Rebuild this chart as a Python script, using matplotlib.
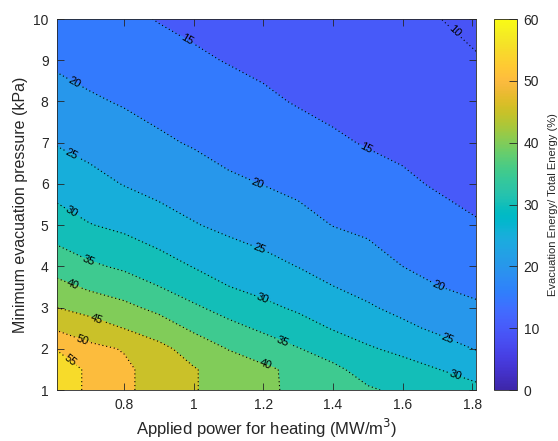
import numpy as np
import matplotlib
matplotlib.use("Agg")
import matplotlib.pyplot as plt
from matplotlib.colors import LinearSegmentedColormap, Normalize
from matplotlib.cm import ScalarMappable

plt.rcParams['font.family'] = ['Liberation Sans', 'DejaVu Sans']

# Applied power (MW/m^3) and minimum evacuation pressure (kPa)
power = [0.607, 0.7, 0.8, 0.9, 1.0, 1.1, 1.2, 1.3, 1.4, 1.5, 1.6, 1.7, 1.811]
pressure = [1, 1.5, 2, 2.5, 3, 3.5, 4, 5, 6, 7, 8, 9, 10]

# evacuation energy / total energy (%), one list per power value (pressure 1 -> 10)
e_061 = [57.3, 57.3, 54.8, 49.35, 45.0, 41.5, 38.0, 32.2, 28.1, 24.7, 21.9, 19.2, 16.9]
e_070 = [54.3, 54.3, 51.2, 47.4, 43.2, 39.25, 35.8, 30.2, 26.6, 23.4, 20.6, 18.3, 16.3]
e_080 = [50.9, 50.9, 49.7, 44.9, 41.2, 37.6, 34.2, 28.9, 24.8, 22.1, 19.6, 17.7, 15.9]
e_090 = [48.0, 48.0, 46.3, 42.6, 38.7, 35.1, 32.1, 27.0, 23.5, 20.7, 18.6, 16.7, 14.8]
e_100 = [45.3, 45.3, 43.05, 39.1, 35.7, 32.6, 29.8, 25.3, 22.3, 19.6, 17.6, 15.6, 14.1]
e_110 = [43.0, 43.0, 39.8, 36.4, 33.2, 30.1, 27.9, 23.9, 20.75, 18.5, 16.6, 14.8, 13.4]
e_120 = [40.9, 40.9, 37.5, 34.2, 31.1, 28.6, 26.4, 22.9, 19.9, 17.8, 15.7, 14.1, 12.8]
e_130 = [39.0, 38.8, 35.2, 32.1, 29.25, 27.1, 24.9, 21.6, 18.9, 16.7, 14.7, 13.5, 12.2]
e_140 = [37.2, 36.0, 32.9, 29.7, 27.4, 25.1, 23.3, 19.9, 17.8, 15.6, 14.0, 12.8, 11.6]
e_150 = [35.5, 33.2, 30.5, 28.0, 25.5, 23.7, 22.0, 19.0, 16.8, 14.7, 13.4, 12.2, 11.1]
e_160 = [34.1, 31.8, 28.9, 26.0, 23.8, 21.9, 20.0, 17.9, 15.7, 14.1, 12.8, 11.7, 10.6]
e_170 = [32.7, 30.1, 27.0, 24.2, 22.2, 20.1, 18.9, 16.6, 14.6, 13.3, 12.1, 11.05, 10.1]
e_181 = [31.2, 28.1, 24.8, 22.7, 20.6, 19.1, 17.8, 15.3, 13.8, 12.5, 11.35, 10.25, 9.1]

levels = [10, 15, 20, 25, 30, 35, 40, 45, 50, 55]
cbar_ticks = [0, 10, 20, 30, 40, 50, 60]

# where the contour labels sit
label_pos = [(1.743, 9.64),
             (0.975, 9.42), (1.493, 6.82),
             (0.653, 8.40), (1.182, 6.00), (1.702, 3.52),
             (0.645, 6.65), (1.185, 4.37), (1.728, 2.21),
             (0.645, 5.25), (1.197, 3.18), (1.751, 1.34),
             (0.697, 4.13), (1.254, 2.14),
             (0.651, 3.52), (1.205, 1.58),
             (0.717, 2.67),
             (0.682, 2.26),
             (0.645, 1.73)]

# parula (64)
parula_rgb = [
    [0.2422, 0.1504, 0.6603], [0.2504, 0.1650, 0.7076], [0.2578, 0.1818, 0.7511],
    [0.2647, 0.1978, 0.7952], [0.2706, 0.2147, 0.8364], [0.2751, 0.2342, 0.8710],
    [0.2783, 0.2559, 0.8991], [0.2803, 0.2782, 0.9221], [0.2813, 0.3006, 0.9414],
    [0.2810, 0.3228, 0.9579], [0.2795, 0.3447, 0.9717], [0.2760, 0.3667, 0.9829],
    [0.2699, 0.3892, 0.9906], [0.2602, 0.4123, 0.9952], [0.2440, 0.4358, 0.9988],
    [0.2206, 0.4603, 0.9973], [0.1963, 0.4847, 0.9892], [0.1834, 0.5074, 0.9798],
    [0.1786, 0.5289, 0.9682], [0.1764, 0.5499, 0.9520], [0.1687, 0.5703, 0.9359],
    [0.1540, 0.5902, 0.9218], [0.1460, 0.6091, 0.9079], [0.1380, 0.6276, 0.8973],
    [0.1248, 0.6459, 0.8883], [0.1113, 0.6635, 0.8763], [0.0952, 0.6798, 0.8598],
    [0.0689, 0.6948, 0.8394], [0.0297, 0.7082, 0.8163], [0.0036, 0.7203, 0.7917],
    [0.0067, 0.7312, 0.7660], [0.0433, 0.7411, 0.7394], [0.0964, 0.7500, 0.7120],
    [0.1408, 0.7584, 0.6842], [0.1717, 0.7670, 0.6554], [0.1938, 0.7758, 0.6251],
    [0.2161, 0.7843, 0.5923], [0.2470, 0.7918, 0.5567], [0.2906, 0.7973, 0.5188],
    [0.3406, 0.8008, 0.4789], [0.3909, 0.8029, 0.4354], [0.4456, 0.8024, 0.3909],
    [0.5044, 0.7993, 0.3480], [0.5616, 0.7942, 0.3045], [0.6174, 0.7876, 0.2612],
    [0.6720, 0.7793, 0.2227], [0.7242, 0.7698, 0.1910], [0.7738, 0.7598, 0.1646],
    [0.8203, 0.7498, 0.1535], [0.8634, 0.7406, 0.1596], [0.9035, 0.7330, 0.1774],
    [0.9393, 0.7288, 0.2100], [0.9728, 0.7298, 0.2394], [0.9956, 0.7434, 0.2371],
    [0.9970, 0.7659, 0.2199], [0.9952, 0.7893, 0.2028], [0.9892, 0.8136, 0.1885],
    [0.9786, 0.8386, 0.1766], [0.9676, 0.8639, 0.1643], [0.9610, 0.8890, 0.1537],
    [0.9597, 0.9135, 0.1423], [0.9628, 0.9373, 0.1265], [0.9691, 0.9606, 0.1064],
    [0.9769, 0.9839, 0.0805]]
parula = LinearSegmentedColormap.from_list('parula', parula_rgb)

Z = np.array([e_061, e_070, e_080, e_090, e_100, e_110, e_120,
              e_130, e_140, e_150, e_160, e_170, e_181]).T
X, Y = np.meshgrid(power, pressure)

# MATLAB style: each band gets the colour of its lower level
fill_levels = [Z.min()] + levels + [60]
band_colors = [parula(lo / 60.0) for lo in fill_levels[:-1]]

fig = plt.figure(figsize=(5.58, 4.41), dpi=100)
ax = fig.add_axes([0.102, 0.1156, 0.751, 0.8413])
cax = fig.add_axes([0.885, 0.1156, 0.041, 0.8413])

ax.contourf(X, Y, Z, levels=fill_levels, colors=band_colors)
cs = ax.contour(X, Y, Z, levels=levels, colors='k', linewidths=0.8,
                linestyles=[(0, (1, 2.5))])
ax.clabel(cs, fmt='%d', fontsize=8, inline=True, inline_spacing=2,
          manual=label_pos)

ax.set_xlim(power[0], power[-1])
ax.set_ylim(1, 10)
ax.set_xticks([0.8, 1.0, 1.2, 1.4, 1.6, 1.8])
ax.set_xticklabels(['0.8', '1', '1.2', '1.4', '1.6', '1.8'])
ax.set_yticks(range(1, 11))
ax.tick_params(direction='in', top=True, right=True, length=5, width=0.6,
               labelsize=10, colors='#262626', pad=6)
for s in ax.spines.values():
    s.set_color('#262626')
    s.set_linewidth(0.6)
ax.set_xlabel('Applied power for heating (MW/m$^3$)', fontsize=12, color='#262626',
              labelpad=3)
ax.set_ylabel('Minimum evacuation pressure (kPa)', fontsize=11.5, color='#262626')

cb = fig.colorbar(ScalarMappable(norm=Normalize(0, 60), cmap=parula), cax=cax)
cb.set_ticks(cbar_ticks)
cax.tick_params(direction='in', length=6, width=0.6, labelsize=10,
                colors='#262626', pad=5)
cb.outline.set_edgecolor('#262626')
cb.outline.set_linewidth(0.6)
cb.set_label('Evacuation Energy/ Total Energy (%)', fontsize=8, color='#262626',
             labelpad=6)

fig.savefig('out.png', dpi=100)
